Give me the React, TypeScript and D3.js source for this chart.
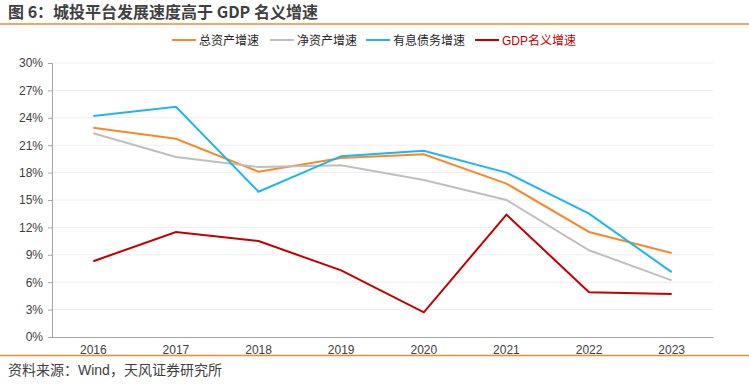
import React, { useEffect, useRef } from 'react';
import * as d3 from 'd3';

// data
const years = ['2016', '2017', '2018', '2019', '2020', '2021', '2022', '2023'];
const totalAssets = [22.9, 21.7, 18.1, 19.6, 20.0, 16.8, 11.5, 9.2];
const netAssets = [22.3, 19.7, 18.6, 18.8, 17.2, 15.0, 9.5, 6.2];
const debt = [24.2, 25.2, 15.9, 19.8, 20.4, 18.0, 13.5, 7.1];
const gdp = [8.3, 11.5, 10.5, 7.3, 2.7, 13.4, 4.9, 4.7];
const yTicks = [0, 3, 6, 9, 12, 15, 18, 21, 24, 27, 30];

const seriesNames = ['总资产增速', '净资产增速', '有息债务增速', 'GDP名义增速'];
const seriesColors = ['#F58A2C', '#BFBFBF', '#1DB6EE', '#C00000'];
const seriesData = [totalAssets, netAssets, debt, gdp];

const App = () => {
  const ref = useRef<SVGSVGElement>(null);

  useEffect(() => {
    const svg = d3.select(ref.current);
    svg.selectAll('*').remove();

    const font = '"Liberation Sans", Arial, "Noto Sans CJK SC", sans-serif';
    const left = 52, right = 713, top = 63, bottom = 337;

    const x = d3.scaleBand().domain(years).range([left, right]);
    const y = d3.scaleLinear().domain([0, 30]).range([bottom, top]);

    // title
    svg.append('text')
      .attr('x', 8).attr('y', 18)
      .attr('font-family', '"Noto Sans CJK SC", sans-serif')
      .attr('font-size', 16).attr('font-weight', 'bold')
      .attr('fill', '#404040')
      .text('图 6：城投平台发展速度高于 GDP 名义增速');
    svg.append('line').attr('x1', 0).attr('x2', 749).attr('y1', 24).attr('y2', 24)
      .attr('stroke', '#F08A32').attr('stroke-width', 1.5);

    // gridlines
    svg.append('g').selectAll('line').data(yTicks.slice(1)).enter().append('line')
      .attr('x1', left).attr('x2', right)
      .attr('y1', d => y(d)).attr('y2', d => y(d))
      .attr('stroke', '#EEEEEE').attr('stroke-width', 1);

    // y axis
    const yAxis = svg.append('g').attr('transform', `translate(${left},0)`)
      .call(d3.axisLeft(y).tickValues(yTicks).tickFormat(d => `${d}%`).tickSize(4).tickPadding(5));
    yAxis.select('.domain').attr('stroke', '#A6A6A6');
    yAxis.selectAll('.tick line').attr('stroke', '#A6A6A6');
    yAxis.selectAll('text').attr('font-family', font).attr('font-size', 12).attr('fill', '#404040');

    // x axis
    const xAxis = svg.append('g').attr('transform', `translate(0,${bottom})`)
      .call(d3.axisBottom(x).tickSize(0).tickPadding(8));
    xAxis.select('.domain').attr('stroke', '#A6A6A6');
    xAxis.selectAll('text').attr('font-family', font).attr('font-size', 12).attr('fill', '#404040');

    // lines
    const line = d3.line<number>()
      .x((d, i) => (x(years[i]) as number) + x.bandwidth() / 2)
      .y(d => y(d));
    seriesData.forEach((s, i) => {
      svg.append('path').datum(s)
        .attr('d', line)
        .attr('fill', 'none')
        .attr('stroke', seriesColors[i])
        .attr('stroke-width', 2);
    });

    // legend
    const legendX = [172, 270, 366, 475];
    const legend = svg.append('g');
    seriesNames.forEach((name, i) => {
      legend.append('line')
        .attr('x1', legendX[i]).attr('x2', legendX[i] + 24)
        .attr('y1', 40).attr('y2', 40)
        .attr('stroke', seriesColors[i]).attr('stroke-width', 2);
      legend.append('text')
        .attr('x', legendX[i] + 27).attr('y', 44.5)
        .attr('font-family', font).attr('font-size', 12)
        .attr('fill', i === 3 ? '#C00000' : '#262626')
        .text(name);
    });

    // source
    svg.append('line').attr('x1', 0).attr('x2', 749).attr('y1', 355.5).attr('y2', 355.5)
      .attr('stroke', '#F08A32').attr('stroke-width', 1.5);
    svg.append('text')
      .attr('x', 8).attr('y', 375)
      .attr('font-family', font).attr('font-size', 14)
      .attr('fill', '#404040')
      .text('资料来源：Wind，天风证券研究所');
  }, []);

  return (
    <svg ref={ref} width={749} height={386}
      style={{ position: 'absolute', left: 0, top: 0, background: '#fff' }} />
  );
};

export default App;
